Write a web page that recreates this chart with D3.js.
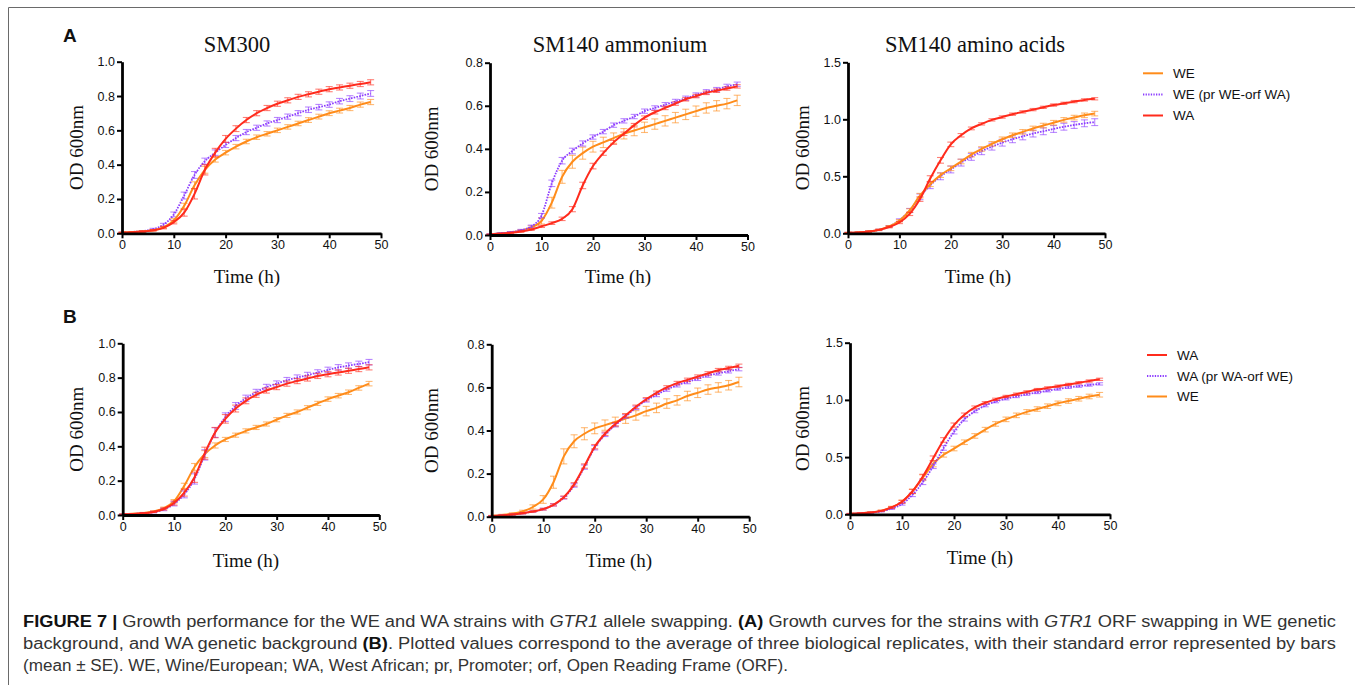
<!DOCTYPE html>
<html><head><meta charset="utf-8">
<script src="https://cdn.jsdelivr.net/npm/d3@7"></script>
<style>body{margin:0;background:#fff} svg{display:block}</style>
</head><body><svg id="c" width="1355" height="685"></svg>
<script>
// ---------- DATA ----------
const times = [0,2,4,6,8,10,12,14,16,18,20,22,24,26,28,30,32,34,36,38,40,42,44,46,48];
const xTicks = [0,10,20,30,40,50];
const yTicks08 = [0,0.2,0.4,0.6,0.8];
const yTicks10 = [0,0.2,0.4,0.6,0.8,1.0];
const yTicks15 = [0,0.5,1.0,1.5];
const panelTitles = ["SM300","SM140 ammonium","SM140 amino acids"];
const legendA = ["WE","WE (pr WE-orf WA)","WA"];
const legendB = ["WA","WA (pr WA-orf WE)","WE"];

// Panel A1 SM300
const a1_WE    = [0.005,0.007,0.011,0.018,0.035,0.075,0.16,0.28,0.37,0.43,0.47,0.505,0.535,0.56,0.58,0.60,0.62,0.64,0.66,0.68,0.70,0.715,0.73,0.75,0.765];
const a1_WE_se = [0.002,0.002,0.003,0.004,0.006,0.01,0.015,0.02,0.02,0.015,0.013,0.013,0.013,0.013,0.013,0.013,0.013,0.013,0.014,0.014,0.014,0.014,0.015,0.015,0.015];
const a1_MX    = [0.005,0.008,0.013,0.024,0.05,0.11,0.22,0.34,0.42,0.47,0.515,0.555,0.59,0.615,0.64,0.66,0.68,0.70,0.72,0.735,0.75,0.77,0.785,0.80,0.815];
const a1_MX_se = [0.002,0.002,0.003,0.005,0.008,0.014,0.02,0.02,0.018,0.016,0.015,0.015,0.015,0.015,0.015,0.015,0.015,0.015,0.016,0.016,0.016,0.016,0.017,0.017,0.017];
const a1_WA    = [0.004,0.006,0.01,0.017,0.032,0.065,0.12,0.23,0.37,0.47,0.55,0.61,0.66,0.70,0.73,0.755,0.775,0.795,0.81,0.825,0.84,0.85,0.86,0.87,0.88];
const a1_WA_se = [0.002,0.002,0.003,0.004,0.006,0.01,0.02,0.03,0.03,0.025,0.02,0.017,0.015,0.015,0.015,0.015,0.015,0.015,0.015,0.015,0.015,0.015,0.015,0.015,0.015];
// Panel A2 SM140 ammonium
const a2_WE    = [0.004,0.007,0.012,0.02,0.035,0.065,0.15,0.27,0.34,0.38,0.41,0.43,0.45,0.47,0.485,0.50,0.515,0.53,0.545,0.56,0.575,0.59,0.60,0.61,0.625];
const a2_WE_se = [0.002,0.002,0.003,0.005,0.008,0.014,0.025,0.03,0.03,0.028,0.025,0.024,0.024,0.024,0.024,0.024,0.024,0.024,0.024,0.024,0.024,0.024,0.024,0.024,0.024];
const a2_MX    = [0.004,0.008,0.013,0.022,0.04,0.09,0.24,0.345,0.39,0.425,0.455,0.48,0.51,0.53,0.55,0.575,0.59,0.605,0.62,0.635,0.65,0.665,0.675,0.69,0.70];
const a2_MX_se = [0.002,0.002,0.003,0.004,0.006,0.01,0.015,0.015,0.013,0.012,0.01,0.01,0.01,0.01,0.01,0.01,0.01,0.01,0.01,0.01,0.01,0.01,0.01,0.01,0.01];
const a2_WA    = [0.003,0.006,0.01,0.016,0.025,0.04,0.055,0.075,0.12,0.23,0.32,0.38,0.43,0.47,0.51,0.545,0.57,0.59,0.61,0.63,0.645,0.66,0.67,0.68,0.69];
const a2_WA_se = [0.001,0.002,0.002,0.003,0.004,0.005,0.006,0.008,0.012,0.015,0.013,0.01,0.009,0.008,0.008,0.008,0.008,0.008,0.008,0.008,0.008,0.008,0.008,0.008,0.008];
// Panel A3 SM140 amino acids
const a3_WE    = [0.005,0.008,0.015,0.03,0.06,0.11,0.2,0.33,0.43,0.51,0.57,0.63,0.69,0.74,0.785,0.825,0.86,0.89,0.92,0.945,0.97,0.995,1.015,1.035,1.05];
const a3_WE_se = [0.003,0.003,0.005,0.006,0.008,0.01,0.015,0.02,0.02,0.02,0.02,0.02,0.02,0.02,0.02,0.02,0.02,0.02,0.02,0.02,0.02,0.02,0.02,0.02,0.02];
const a3_MX    = [0.005,0.008,0.015,0.03,0.06,0.115,0.2,0.32,0.42,0.5,0.56,0.62,0.67,0.72,0.76,0.795,0.825,0.85,0.875,0.895,0.915,0.935,0.95,0.965,0.975];
const a3_MX_se = [0.003,0.003,0.005,0.006,0.008,0.012,0.018,0.025,0.028,0.03,0.03,0.03,0.03,0.03,0.03,0.03,0.03,0.03,0.03,0.03,0.03,0.03,0.03,0.03,0.03];
const a3_WA    = [0.005,0.008,0.015,0.03,0.055,0.095,0.17,0.3,0.48,0.64,0.78,0.86,0.92,0.96,0.995,1.02,1.045,1.065,1.085,1.105,1.125,1.14,1.155,1.17,1.18];
const a3_WA_se = [0.003,0.003,0.004,0.005,0.007,0.01,0.014,0.02,0.025,0.025,0.02,0.015,0.012,0.01,0.01,0.01,0.01,0.01,0.01,0.01,0.01,0.01,0.01,0.01,0.01];
// Panel B1 SM300
const b1_WA    = [0.004,0.006,0.01,0.018,0.035,0.07,0.13,0.22,0.36,0.48,0.56,0.62,0.665,0.70,0.725,0.745,0.765,0.78,0.795,0.81,0.82,0.83,0.84,0.85,0.86];
const b1_WA_se = [0.002,0.002,0.003,0.004,0.006,0.012,0.02,0.03,0.035,0.03,0.025,0.02,0.017,0.015,0.015,0.015,0.015,0.015,0.015,0.015,0.015,0.015,0.015,0.015,0.015];
const b1_MX    = [0.004,0.006,0.01,0.017,0.032,0.065,0.12,0.21,0.35,0.48,0.57,0.635,0.68,0.715,0.745,0.765,0.785,0.80,0.815,0.83,0.845,0.86,0.87,0.88,0.89];
const b1_MX_se = [0.002,0.002,0.003,0.004,0.007,0.012,0.02,0.03,0.03,0.028,0.025,0.02,0.018,0.017,0.016,0.016,0.016,0.016,0.016,0.016,0.016,0.016,0.016,0.016,0.016];
const b1_WE    = [0.004,0.007,0.012,0.02,0.04,0.08,0.17,0.28,0.355,0.405,0.44,0.465,0.49,0.51,0.53,0.555,0.58,0.60,0.625,0.65,0.675,0.695,0.715,0.74,0.765];
const b1_WE_se = [0.002,0.002,0.003,0.004,0.006,0.01,0.015,0.02,0.02,0.015,0.012,0.012,0.012,0.012,0.012,0.012,0.012,0.012,0.012,0.012,0.013,0.013,0.013,0.013,0.013];
// Panel B2 SM140 ammonium
const b2_WA    = [0.003,0.006,0.01,0.016,0.024,0.035,0.055,0.09,0.15,0.235,0.325,0.385,0.43,0.47,0.51,0.545,0.575,0.60,0.62,0.635,0.65,0.665,0.68,0.69,0.70];
const b2_WA_se = [0.001,0.002,0.002,0.003,0.003,0.004,0.005,0.006,0.008,0.01,0.01,0.008,0.008,0.008,0.008,0.008,0.008,0.008,0.008,0.008,0.008,0.008,0.008,0.008,0.008];
const b2_MX    = [0.003,0.006,0.01,0.016,0.024,0.035,0.055,0.088,0.145,0.23,0.32,0.38,0.425,0.465,0.505,0.54,0.565,0.59,0.61,0.625,0.64,0.655,0.665,0.675,0.685];
const b2_MX_se = [0.001,0.002,0.002,0.003,0.003,0.004,0.005,0.006,0.008,0.01,0.01,0.008,0.008,0.008,0.008,0.008,0.008,0.008,0.008,0.008,0.008,0.008,0.008,0.008,0.008];
const b2_WE    = [0.004,0.008,0.014,0.024,0.045,0.08,0.16,0.28,0.35,0.385,0.41,0.425,0.44,0.455,0.47,0.49,0.505,0.525,0.54,0.56,0.575,0.59,0.60,0.61,0.625];
const b2_WE_se = [0.002,0.003,0.004,0.006,0.01,0.018,0.028,0.035,0.03,0.028,0.025,0.024,0.022,0.022,0.022,0.022,0.022,0.022,0.022,0.022,0.022,0.022,0.022,0.022,0.022];
// Panel B3 SM140 amino acids
const b3_WA    = [0.005,0.009,0.016,0.03,0.06,0.11,0.2,0.33,0.49,0.65,0.78,0.87,0.935,0.975,1.005,1.03,1.05,1.07,1.09,1.105,1.12,1.135,1.15,1.165,1.18];
const b3_WA_se = [0.003,0.003,0.004,0.005,0.008,0.012,0.018,0.02,0.02,0.02,0.018,0.015,0.012,0.01,0.01,0.01,0.01,0.01,0.01,0.01,0.01,0.01,0.01,0.01,0.01];
const b3_MX    = [0.004,0.008,0.014,0.026,0.05,0.09,0.17,0.28,0.42,0.58,0.72,0.83,0.9,0.95,0.985,1.01,1.03,1.05,1.065,1.08,1.095,1.11,1.12,1.13,1.14];
const b3_MX_se = [0.002,0.003,0.004,0.005,0.007,0.01,0.015,0.02,0.02,0.02,0.018,0.015,0.012,0.01,0.01,0.01,0.01,0.01,0.01,0.01,0.01,0.01,0.01,0.01,0.01];
const b3_WE    = [0.004,0.008,0.015,0.03,0.06,0.11,0.2,0.32,0.44,0.52,0.575,0.63,0.685,0.74,0.79,0.83,0.865,0.895,0.92,0.945,0.97,0.99,1.01,1.03,1.045];
const b3_WE_se = [0.003,0.003,0.005,0.007,0.01,0.014,0.02,0.025,0.025,0.02,0.02,0.02,0.02,0.02,0.02,0.02,0.02,0.02,0.02,0.02,0.02,0.02,0.02,0.02,0.02];

// ---------- STYLE ----------
const COL = {WE:"#ff8c1a", WA:"#ff2b1c", MX:"#8c3cff"};
const SANS = "'Liberation Sans', Arial, sans-serif";
const SERIF = "'Liberation Serif', 'Times New Roman', serif";

const panels = [
  {x0:122, x1:381, y0:233.3, y1:61.7, ymax:1.0, yt:yTicks10, title:panelTitles[0], tx:237, ylx:83, xlx:247, xly:283,
   series:[["MX",a1_MX,a1_MX_se],["WE",a1_WE,a1_WE_se],["WA",a1_WA,a1_WA_se]]},
  {x0:490, x1:747.5, y0:235, y1:62.7, ymax:0.8, yt:yTicks08, title:panelTitles[1], tx:620, ylx:438, xlx:618, xly:283,
   series:[["WE",a2_WE,a2_WE_se],["MX",a2_MX,a2_MX_se],["WA",a2_WA,a2_WA_se]]},
  {x0:848, x1:1105, y0:233.3, y1:62.3, ymax:1.5, yt:yTicks15, title:panelTitles[2], tx:975, ylx:809, xlx:978, xly:283,
   series:[["MX",a3_MX,a3_MX_se],["WE",a3_WE,a3_WE_se],["WA",a3_WA,a3_WA_se]]},
  {x0:122.7, x1:379.3, y0:515, y1:343.3, ymax:1.0, yt:yTicks10, ylx:83, xlx:246, xly:567,
   series:[["WE",b1_WE,b1_WE_se],["MX",b1_MX,b1_MX_se],["WA",b1_WA,b1_WA_se]]},
  {x0:491.7, x1:749.2, y0:516.7, y1:344.3, ymax:0.8, yt:yTicks08, ylx:438, xlx:619, xly:567,
   series:[["WE",b2_WE,b2_WE_se],["MX",b2_MX,b2_MX_se],["WA",b2_WA,b2_WA_se]]},
  {x0:850, x1:1110, y0:514.3, y1:342.7, ymax:1.5, yt:yTicks15, ylx:809, xlx:980, xly:564,
   series:[["WE",b3_WE,b3_WE_se],["MX",b3_MX,b3_MX_se],["WA",b3_WA,b3_WA_se]]}
];

const svg = d3.select("#c");
svg.append("rect").attr("width",1355).attr("height",685).attr("fill","#fff");
// frame
svg.append("path").attr("d","M8.5,685 V7.5 H1355").attr("fill","none").attr("stroke","#6a6a6a").attr("stroke-width",1);

panels.forEach(p => {
  const x = d3.scaleLinear().domain([0,50]).range([p.x0,p.x1]);
  const y = d3.scaleLinear().domain([0,p.ymax]).range([p.y0,p.y1]);
  const g = svg.append("g");

  // series
  p.series.forEach(([key, vals, se]) => {
    const c = COL[key];
    const eb = g.append("g").attr("stroke",c).attr("stroke-opacity",0.6).attr("stroke-width",1.1);
    times.forEach((t,i) => {
      const xx = x(t), lo = y(Math.max(0,vals[i]-se[i])), hi = y(vals[i]+se[i]);
      eb.append("line").attr("x1",xx).attr("x2",xx).attr("y1",lo).attr("y2",hi);
      eb.append("line").attr("x1",xx-3.5).attr("x2",xx+3.5).attr("y1",lo).attr("y2",lo);
      eb.append("line").attr("x1",xx-3.5).attr("x2",xx+3.5).attr("y1",hi).attr("y2",hi);
    });
    const line = d3.line().x((d,i)=>x(times[i])).y(d=>y(d)).curve(d3.curveMonotoneX);
    g.append("path").datum(vals).attr("d",line).attr("fill","none").attr("stroke",c)
      .attr("stroke-width", key==="MX"?1.8:2)
      .attr("stroke-dasharray", key==="MX"?"1.6,1.2":null);
  });

  // axes
  const xa = g.append("g").attr("transform",`translate(0,${p.y0})`)
    .call(d3.axisBottom(x).tickValues(xTicks).tickFormat(d3.format("d")).tickSize(5).tickSizeOuter(0).tickPadding(2));
  const ya = g.append("g").attr("transform",`translate(${p.x0},0)`)
    .call(d3.axisLeft(y).tickValues(p.yt).tickFormat(d3.format(".1f")).tickSize(5).tickSizeOuter(0).tickPadding(2));
  [xa,ya].forEach(a => {
    a.select(".domain").attr("stroke","#000").attr("stroke-width",2.8);
    a.selectAll(".tick line").attr("stroke","#000").attr("stroke-width",2);
    a.selectAll(".tick text").attr("fill","#111").style("font-family",SANS).style("font-size","12.5px");
  });

  if (p.title) g.append("text").attr("x",p.tx).attr("y",52).attr("text-anchor","middle")
    .style("font-family",SERIF).style("font-size","22.5px").attr("fill","#111").text(p.title);
  g.append("text").attr("transform",`translate(${p.ylx},${(p.y0+p.y1)/2}) rotate(-90)`).attr("text-anchor","middle")
    .style("font-family",SERIF).style("font-size","19px").attr("fill","#111").text("OD 600nm");
  g.append("text").attr("x",p.xlx).attr("y",p.xly).attr("text-anchor","middle")
    .style("font-family",SERIF).style("font-size","19px").attr("fill","#111").text("Time (h)");
});

// panel letters
[["A",35],["B",316]].forEach(([t,yy]) => svg.append("text").attr("x",63).attr("y",yy+7)
  .style("font-family",SANS).style("font-weight","bold").style("font-size","19px").attr("fill","#111").text(t));

// legends
function legend(labels, keys, lx0, lx1, tx, ys){
  labels.forEach((lab,i) => {
    const k = keys[i];
    svg.append("line").attr("x1",lx0).attr("x2",lx1).attr("y1",ys[i]).attr("y2",ys[i])
      .attr("stroke",COL[k]).attr("stroke-width",2).attr("stroke-dasharray",k==="MX"?"1.3,1.3":null);
    svg.append("text").attr("x",tx).attr("y",ys[i]+4.5).style("font-family",SANS).style("font-size","13.5px")
      .attr("fill","#111").text(lab);
  });
}
legend(legendA, ["WE","MX","WA"], 1143, 1163, 1173, [73.3,94.5,115.5]);
legend(legendB, ["WA","MX","WE"], 1147, 1167, 1177, [355,376,396.5]);

// caption
const CAP = "'Liberation Sans Narrow', 'Liberation Sans', Arial, sans-serif";
const capLines = [
  {y:627, len:1313, parts:[["FIGURE 7 |","b"],[" Growth performance for the WE and WA strains with ",""],["GTR1","i"],[" allele swapping. ",""],["(A)","b"],[" Growth curves for the strains with ",""],["GTR1","i"],[" ORF swapping in WE genetic",""]]},
  {y:649, len:1313, parts:[["background, and WA genetic background ",""],["(B)","b"],[". Plotted values correspond to the average of three biological replicates, with their standard error represented by bars",""]]},
  {y:671, len:765, parts:[["(mean \u00b1 SE). WE, Wine/European; WA, West African; pr, Promoter; orf, Open Reading Frame (ORF).",""]]}
];
capLines.forEach(l => {
  const t = svg.append("text").attr("x",23).attr("y",l.y).style("font-family",CAP).style("font-size","16px")
    .attr("fill","#333").attr("textLength",l.len).attr("lengthAdjust","spacingAndGlyphs").attr("xml:space","preserve");
  l.parts.forEach(([s,f]) => {
    const ts = t.append("tspan").text(s);
    if (f==="b") ts.style("font-weight","bold").attr("fill","#111");
    if (f==="i") ts.style("font-style","italic");
  });
});
</script></body></html>
